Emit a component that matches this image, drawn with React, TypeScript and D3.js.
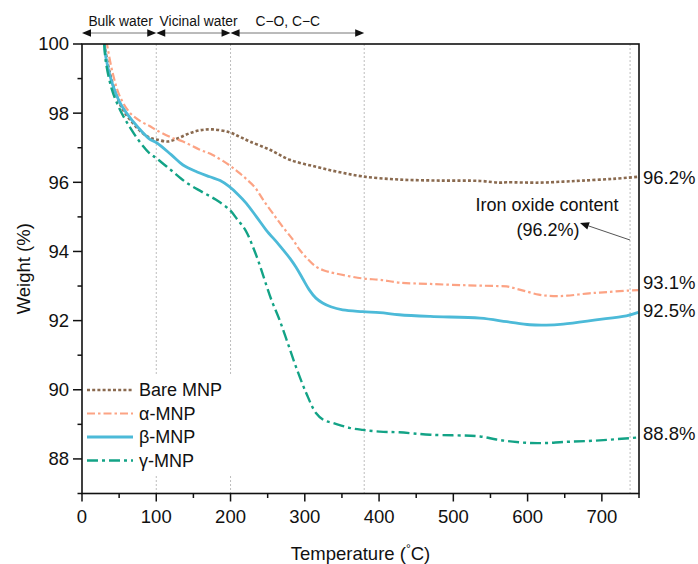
import React from "react";
import * as d3 from "d3";

// ---- data (temperature °C, weight %) ----
const bareT = [30, 35, 40, 47, 55, 69, 80, 91, 100, 116, 130, 145, 160, 176, 198, 212, 226, 253, 280, 315, 345, 378, 427, 481, 536, 562, 572, 615, 648, 674, 715, 749];
const bareW = [100.0, 99.4, 98.95, 98.48, 98.1, 97.7, 97.45, 97.29, 97.24, 97.18, 97.28, 97.42, 97.51, 97.53, 97.45, 97.32, 97.18, 96.94, 96.65, 96.45, 96.3, 96.17, 96.08, 96.05, 96.04, 95.99, 96.0, 95.99, 96.02, 96.05, 96.1, 96.16];

const alphaT = [33, 35, 42, 51, 65, 80, 91, 100, 120, 136, 158, 176, 198, 210, 221, 233, 244, 257, 270, 284, 293, 303, 315, 326, 340, 378, 401, 427, 469, 520, 560, 572, 585, 599, 615, 626, 640, 653, 683, 697, 736, 749];
const alphaW = [100.1, 99.83, 99.1, 98.48, 98.0, 97.75, 97.63, 97.51, 97.3, 97.18, 96.95, 96.79, 96.5, 96.3, 96.1, 95.85, 95.49, 95.1, 94.72, 94.34, 94.05, 93.8, 93.56, 93.45, 93.37, 93.22, 93.18, 93.1, 93.06, 93.02, 93.0, 92.99, 92.92, 92.84, 92.75, 92.72, 92.71, 92.72, 92.79, 92.81, 92.87, 92.88];

const betaT = [30, 32, 40, 50, 60, 75, 91, 100, 120, 136, 155, 172, 186, 198, 210, 221, 235, 248, 265, 280, 288, 297, 306, 315, 324, 335, 351, 378, 401, 427, 469, 536, 572, 603, 625, 648, 692, 733, 749];
const betaW = [100.1, 99.63, 98.9, 98.35, 98.0, 97.6, 97.25, 97.15, 96.8, 96.5, 96.3, 96.16, 96.05, 95.88, 95.65, 95.4, 95.0, 94.62, 94.2, 93.8, 93.55, 93.22, 92.89, 92.65, 92.51, 92.4, 92.31, 92.26, 92.23, 92.17, 92.12, 92.07, 91.97, 91.88, 91.87, 91.9, 92.02, 92.14, 92.24];

const gammaT = [30, 32, 40, 50, 60, 75, 91, 100, 120, 140, 161, 180, 199, 210, 217, 223, 230, 237, 244, 255, 266, 277, 288, 302, 315, 326, 338, 360, 378, 401, 427, 469, 536, 558, 580, 603, 625, 648, 692, 749];
const gammaW = [100.0, 99.5, 98.7, 98.15, 97.75, 97.25, 96.84, 96.7, 96.35, 96.0, 95.73, 95.5, 95.2, 94.9, 94.72, 94.5, 94.14, 93.75, 93.3, 92.6, 92.02, 91.35, 90.67, 89.9, 89.33, 89.12, 89.04, 88.9, 88.84, 88.79, 88.77, 88.7, 88.65, 88.56, 88.5, 88.46, 88.46, 88.49, 88.53, 88.62];

const seriesNames = ["Bare MNP", "α-MNP", "β-MNP", "γ-MNP"];
const endLabels = ["96.2%", "93.1%", "92.5%", "88.8%"];
const endLabelValues = [96.13, 93.11, 92.3, 88.74];

const xTicks = [0, 100, 200, 300, 400, 500, 600, 700];
const xMinor = [50, 150, 250, 350, 450, 550, 650, 750];
const yTicks = [88, 90, 92, 94, 96, 98, 100];
const yMinor = [87, 89, 91, 93, 95, 97, 99];
const guideT = [100, 200, 380, 738];
const regions = [
  { from: 0, to: 100, label: "Bulk water", at: 52 },
  { from: 100, to: 200, label: "Vicinal water", at: 157 },
  { from: 200, to: 380, label: "C−O, C−C", at: 277 },
];

const styles = [
  { color: "#8a6a4f", dash: "3,2.2", width: 2.6 },
  { color: "#fca384", dash: "8,3,2.5,3", width: 2.2 },
  { color: "#4cbad8", dash: "", width: 2.8 },
  { color: "#13a386", dash: "11,4,3,4", width: 2.4 },
];

const FONT = "'Liberation Sans', Arial, Helvetica, sans-serif";

export default function App() {
  const W = 698, H = 564;
  const left = 82, right = 639, top = 44, bottom = 493.5;
  const x = d3.scaleLinear().domain([0, 750]).range([left, right]);
  const y = d3.scaleLinear().domain([87, 100]).range([bottom, top]);

  const data = [
    d3.zip(bareT, bareW),
    d3.zip(alphaT, alphaW),
    d3.zip(betaT, betaW),
    d3.zip(gammaT, gammaW),
  ] as [number, number][][];

  const line = d3
    .line<[number, number]>()
    .x((d) => x(d[0]))
    .y((d) => y(d[1]))
    .curve(d3.curveCatmullRom.alpha(0.5));

  const legendY = [390, 413.5, 437, 460.5];
  const arrowY = 33;

  const head = (tipX: number, yy: number, dir: number) =>
    `M${tipX},${yy} L${tipX - dir * 9},${yy - 3.8} L${tipX - dir * 9},${yy + 3.8} Z`;

  // annotation arrow
  const ax0 = 630, ay0 = 240, ax1 = 580, ay1 = 223;
  const ang = Math.atan2(ay1 - ay0, ax1 - ax0);
  const hl = 9, hw = 3.8;
  const bx = ax1 - hl * Math.cos(ang), by = ay1 - hl * Math.sin(ang);
  const annHead = `M${ax1},${ay1} L${bx + hw * Math.sin(ang)},${by - hw * Math.cos(ang)} L${bx - hw * Math.sin(ang)},${by + hw * Math.cos(ang)} Z`;

  return (
    <svg
      width={W}
      height={H}
      style={{ position: "absolute", left: 0, top: 0, background: "#fff" }}
      fontFamily={FONT}
    >
      <defs>
        <clipPath id="plotclip">
          <rect x={left} y={top} width={right - left} height={bottom - top} />
        </clipPath>
      </defs>
      <rect x={0} y={0} width={W} height={H} fill="#fff" />

      {/* guide lines */}
      {guideT.map((t) => (
        <line
          key={t}
          x1={x(t)}
          x2={x(t)}
          y1={top}
          y2={bottom}
          stroke="#bdbdbd"
          strokeWidth={1}
          strokeDasharray="2,2"
        />
      ))}

      {/* curves */}
      <g clipPath="url(#plotclip)">
        {data.map((d, i) => (
          <path
            key={i}
            d={line(d) || ""}
            fill="none"
            stroke={styles[i].color}
            strokeWidth={styles[i].width}
            strokeDasharray={styles[i].dash}
          />
        ))}
      </g>

      {/* legend */}
      <rect x={84} y={376} width={160} height={100} fill="#fff" />
      {seriesNames.map((n, i) => (
        <g key={n}>
          <line
            x1={87}
            x2={133}
            y1={legendY[i]}
            y2={legendY[i]}
            stroke={styles[i].color}
            strokeWidth={styles[i].width}
            strokeDasharray={styles[i].dash}
          />
          <text x={139} y={legendY[i]} dy="0.35em" fontSize={18} fill="#111">
            {n}
          </text>
        </g>
      ))}

      {/* frame */}
      <rect x={left} y={top} width={right - left} height={bottom - top} fill="none" stroke="#111" strokeWidth={1.6} />

      {/* x ticks */}
      {xTicks.map((t) => (
        <g key={t}>
          <line x1={x(t)} x2={x(t)} y1={bottom} y2={bottom + 8} stroke="#111" strokeWidth={1.5} />
          <text x={x(t)} y={517} dy="0.35em" textAnchor="middle" fontSize={18.5} fill="#111">
            {t}
          </text>
        </g>
      ))}
      {xMinor.map((t) => (
        <line key={t} x1={x(t)} x2={x(t)} y1={bottom} y2={bottom + 4.5} stroke="#111" strokeWidth={1.5} />
      ))}

      {/* y ticks */}
      {yTicks.map((v) => (
        <g key={v}>
          <line x1={left - 9} x2={left} y1={y(v)} y2={y(v)} stroke="#111" strokeWidth={1.5} />
          <text x={69} y={y(v)} dy="0.35em" textAnchor="end" fontSize={18.5} fill="#111">
            {v}
          </text>
        </g>
      ))}
      {yMinor.map((v) => (
        <line key={v} x1={left - 4.5} x2={left} y1={y(v)} y2={y(v)} stroke="#111" strokeWidth={1.5} />
      ))}

      {/* axis titles */}
      <text
        transform={`translate(24,${(top + bottom) / 2}) rotate(-90)`}
        textAnchor="middle"
        dy="0.35em"
        fontSize={18.5}
        fill="#111"
      >
        Weight (%)
      </text>
      <text x={(left + right) / 2} y={560} textAnchor="middle" fontSize={18.5} fill="#111">
        Temperature (
        <tspan dy={-7} fontSize={12}>
          °
        </tspan>
        <tspan dy={7}>C)</tspan>
      </text>

      {/* end labels */}
      {endLabels.map((l, i) => (
        <text key={l} x={643} y={y(endLabelValues[i])} dy="0.35em" fontSize={18.5} fill="#111">
          {l}
        </text>
      ))}

      {/* region arrows */}
      {regions.map((r) => (
        <g key={r.label}>
          <line x1={x(r.from) + 2} x2={x(r.to) - 2} y1={arrowY} y2={arrowY} stroke="#777" strokeWidth={1} />
          <path d={head(x(r.from), arrowY, -1)} fill="#111" />
          <path d={head(x(r.to), arrowY, 1)} fill="#111" />
          <text x={x(r.at)} y={21} dy="0.35em" textAnchor="middle" fontSize={13.8} fill="#111">
            {r.label}
          </text>
        </g>
      ))}

      {/* iron oxide annotation */}
      <text x={547} y={205} dy="0.35em" textAnchor="middle" fontSize={18} fill="#111">
        Iron oxide content
      </text>
      <text x={548} y={230} dy="0.35em" textAnchor="middle" fontSize={18} fill="#111">
        (96.2%)
      </text>
      <line x1={ax0} y1={ay0} x2={bx} y2={by} stroke="#555" strokeWidth={1} />
      <path d={annHead} fill="#111" />
    </svg>
  );
}
